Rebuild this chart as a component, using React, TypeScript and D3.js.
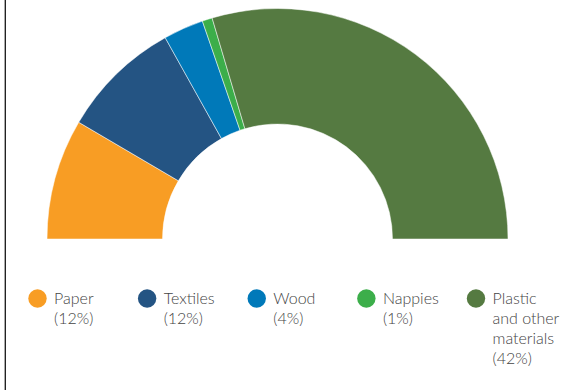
import React from "react";
import * as d3 from "d3";

const categories = ["Paper", "Textiles", "Wood", "Nappies", "Plastic and other materials"];
const values = [12, 12, 4, 1, 42];
const legendLines = [["Paper", "(12%)"], ["Textiles", "(12%)"], ["Wood", "(4%)"], ["Nappies", "(1%)"], ["Plastic", "and other", "materials", "(42%)"]];
const colors = ["#F89D24", "#245483", "#0079B9", "#3CAE4A", "#557A41"];

export default function App() {
  const W = 574, H = 390;
  const cx = 277.5, cy = 239, rOuter = 230.5, rInner = 115;
  const pie = d3.pie<number>().sort(null).startAngle(-Math.PI / 2).endAngle(Math.PI / 2);
  const arcs = pie(values);
  const arc = d3.arc<d3.PieArcDatum<number>>().innerRadius(rInner).outerRadius(rOuter);
  const legendX = d3.scalePoint<string>().domain(categories).range([37.5, 476]);
  return (
    <svg width={W} height={H} style={{ position: "absolute", left: 0, top: 0, display: "block" }}>
      <rect x={0} y={0} width={W} height={H} fill="#fff" />
      <rect x={4} y={0} width={1} height={H} fill="#aaa" />
      <rect x={5} y={0} width={1} height={H} fill="#222" />
      <g transform={`translate(${cx},${cy})`}>
        {arcs.map((a, i) => (
          <path key={i} d={arc(a) || ""} fill={colors[i]} stroke="#fff" strokeWidth={0.5} />
        ))}
      </g>
      {categories.map((c, i) => {
        const x = legendX(c) as number;
        return (
          <g key={c}>
            <circle cx={x} cy={298.5} r={9.2} fill={colors[i]} />
            <text x={x + 16.5} y={304} fontFamily="Lato, 'Open Sans', sans-serif" fontWeight={300} fontSize={16} fill="#444">
              {legendLines[i].map((l, j) => (
                <tspan key={j} x={x + 16.5} dy={j === 0 ? 0 : 20}>{l}</tspan>
              ))}
            </text>
          </g>
        );
      })}
    </svg>
  );
}
